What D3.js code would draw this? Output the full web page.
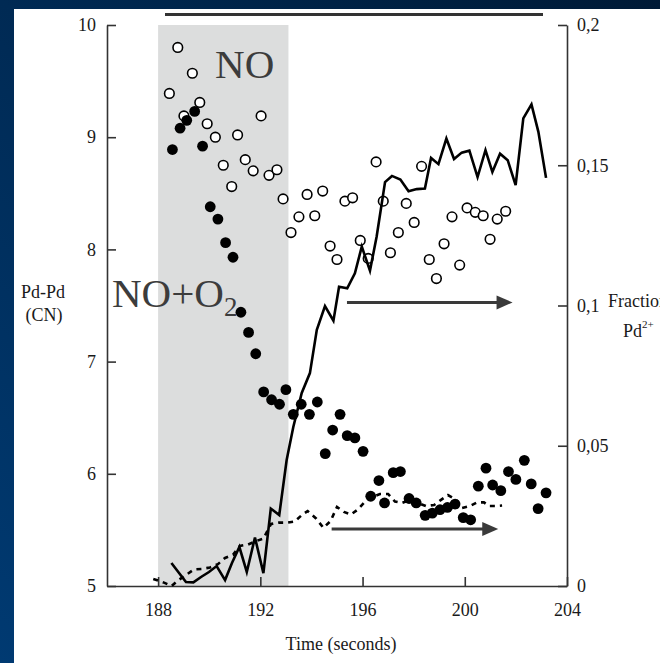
<!DOCTYPE html>
<html>
<head>
<meta charset="utf-8">
<script src="https://cdn.jsdelivr.net/npm/d3@7"></script>
<style>
  html, body { margin: 0; padding: 0; background: #002040; }
  svg { display: block; }
  text { font-family: "Liberation Serif", "Times New Roman", serif; }
</style>
</head>
<body>
<svg id="chart" width="660" height="663"></svg>
<script>
// ---- data ----
// Pd-Pd coordination number, NO exposure (open circles)
const openTime = [188.44,188.77,189.01,189.34,189.63,189.92,190.24,190.55,190.88,191.11,191.41,191.72,192.03,192.34,192.65,192.89,193.20,193.51,193.83,194.13,194.44,194.73,195.00,195.31,195.61,195.91,196.22,196.53,196.81,197.09,197.40,197.71,198.02,198.31,198.61,198.89,199.19,199.50,199.80,200.09,200.41,200.72,200.99,201.27,201.60];
const openCN = [9.39,9.80,9.19,9.57,9.31,9.12,9.00,8.75,8.56,9.02,8.80,8.70,9.19,8.66,8.71,8.45,8.15,8.29,8.49,8.30,8.52,8.03,7.91,8.43,8.46,8.08,7.92,8.78,8.43,7.97,8.15,8.41,8.24,8.74,7.91,7.74,8.05,8.29,7.86,8.37,8.33,8.30,8.09,8.27,8.34];

// Pd-Pd coordination number, NO+O2 exposure (filled circles)
const filledTime = [188.56,188.86,189.12,189.43,189.74,190.04,190.34,190.64,190.93,191.24,191.54,191.82,192.13,192.44,192.75,193.00,193.29,193.60,193.92,194.23,194.54,194.83,195.12,195.40,195.70,196.02,196.32,196.64,196.86,197.20,197.48,197.82,198.10,198.45,198.73,199.03,199.32,199.62,199.94,200.23,200.53,200.83,201.09,201.41,201.71,202.00,202.33,202.60,202.87,203.18];
const filledCN = [8.89,9.08,9.15,9.23,8.92,8.38,8.27,8.06,7.93,7.44,7.26,7.07,6.73,6.66,6.62,6.75,6.53,6.62,6.53,6.64,6.18,6.39,6.53,6.34,6.32,6.20,5.80,5.94,5.74,6.01,6.02,5.78,5.74,5.63,5.65,5.68,5.70,5.73,5.61,5.59,5.89,6.05,5.90,5.85,6.02,5.95,6.12,5.91,5.69,5.83];

// Fraction Pd2+, NO+O2 (solid line)
const solidTime = [188.52,189.09,189.38,189.68,189.99,190.29,190.62,190.89,191.18,191.47,191.79,192.12,192.41,192.74,193.03,193.29,193.62,193.94,194.21,194.53,194.86,195.08,195.40,195.70,195.97,196.29,196.55,196.88,197.15,197.48,197.80,198.12,198.44,198.68,198.97,199.28,199.58,199.88,200.18,200.50,200.81,201.08,201.38,201.68,201.99,202.29,202.61,202.88,203.18];
const solidFrac = [0.0082,0.0014,0.0013,0.0032,0.0050,0.0071,0.0021,0.0082,0.0139,0.0050,0.0173,0.0046,0.0276,0.0253,0.0449,0.0567,0.0688,0.0759,0.0913,0.0998,0.0946,0.1067,0.1061,0.1115,0.1210,0.1124,0.1245,0.1440,0.1462,0.1449,0.1407,0.1415,0.1417,0.1526,0.1504,0.1595,0.1522,0.1545,0.1552,0.1458,0.1554,0.1476,0.1541,0.1518,0.1429,0.1667,0.1717,0.1619,0.1455];

// Fraction Pd2+, NO (dashed line)
const dashTime = [187.81,188.23,188.53,188.78,189.09,189.40,189.72,190.03,190.34,190.62,190.93,191.20,191.52,191.83,192.12,192.42,192.73,193.04,193.34,193.65,193.85,194.18,194.47,194.75,195.00,195.27,195.55,195.82,196.10,196.37,196.68,197.00,197.27,197.54,197.86,198.17,198.48,198.80,199.07,199.34,199.66,199.89,200.20,200.48,200.75,200.95,201.18,201.46];
const dashFrac = [0.0025,0.0012,0.0000,0.0020,0.0039,0.0059,0.0061,0.0066,0.0078,0.0100,0.0111,0.0143,0.0148,0.0160,0.0169,0.0221,0.0226,0.0226,0.0230,0.0255,0.0267,0.0241,0.0207,0.0232,0.0282,0.0264,0.0255,0.0273,0.0301,0.0317,0.0328,0.0328,0.0301,0.0296,0.0307,0.0296,0.0285,0.0289,0.0307,0.0324,0.0307,0.0278,0.0285,0.0298,0.0298,0.0285,0.0285,0.0287];

// gas switching window (s)
const shadeRange = [188, 193.1];

// axis ticks
const timeTicks = [188, 192, 196, 200, 204];
const cnTicks = [5, 6, 7, 8, 9, 10];
const fracTicks = [0, 0.05, 0.1, 0.15, 0.2];

// direction arrows: [t start, t end, fraction]
const arrows = [[195.39, 201.87, 0.1011], [194.79, 201.31, 0.0203]];

// ---- layout ----
const svg = d3.select("#chart");
const W = 660, H = 663;

const x = d3.scaleLinear().domain([186, 204]).range([107, 567]);
const yL = d3.scaleLinear().domain([5, 10]).range([586, 25]);
const yR = d3.scaleLinear().domain([0, 0.2]).range([586, 25]);

// slide background
const defs = svg.append("defs");
const grad = defs.append("linearGradient").attr("id", "bg")
  .attr("x1", "1").attr("y1", "0").attr("x2", "0").attr("y2", "1");
grad.append("stop").attr("offset", "0").attr("stop-color", "#001a36");
grad.append("stop").attr("offset", "1").attr("stop-color", "#003a72");
svg.append("rect").attr("width", W).attr("height", H).attr("fill", "url(#bg)");
svg.append("rect").attr("x", 14).attr("y", 9).attr("width", W - 14).attr("height", H - 9).attr("fill", "#ffffff");

// header rule
svg.append("line").attr("x1", 165).attr("x2", 543).attr("y1", 14.5).attr("y2", 14.5)
  .attr("stroke", "#333").attr("stroke-width", 3);

// shaded exposure window
svg.append("rect")
  .attr("x", x(shadeRange[0])).attr("width", x(shadeRange[1]) - x(shadeRange[0]))
  .attr("y", yL(10)).attr("height", yL(5) - yL(10))
  .attr("fill", "#dcdddd");

// axes
const comma = d3.formatLocale({decimal: ",", thousands: ".", grouping: [3], currency: ["", ""]}).format("~g");

function styleAxis(g) {
  g.selectAll("path.domain").attr("stroke", "#333").attr("stroke-width", 1.6);
  g.selectAll(".tick line").attr("stroke", "#333").attr("stroke-width", 1.6);
  g.selectAll(".tick text").attr("fill", "#1a1a1a").attr("font-size", 18)
    .attr("font-family", "'Liberation Serif', serif");
}

svg.append("g").attr("transform", `translate(0,${yL(5)})`)
  .call(d3.axisBottom(x).tickValues(timeTicks).tickSize(-9).tickSizeOuter(0).tickPadding(17).tickFormat(d3.format("d")))
  .call(styleAxis);

svg.append("g").attr("transform", `translate(${x(186)},0)`)
  .call(d3.axisLeft(yL).tickValues(cnTicks).tickSize(-9).tickSizeOuter(0).tickPadding(11).tickFormat(d3.format("d")))
  .call(styleAxis);

svg.append("g").attr("transform", `translate(${x(204)},0)`)
  .call(d3.axisRight(yR).tickValues(fracTicks).tickSize(-9).tickSizeOuter(0).tickPadding(10).tickFormat(comma))
  .call(styleAxis);

// series
const openPts = openTime.map((t, i) => [t, openCN[i]]);
const filledPts = filledTime.map((t, i) => [t, filledCN[i]]);
const solidPts = solidTime.map((t, i) => [t, solidFrac[i]]);
const dashPts = dashTime.map((t, i) => [t, dashFrac[i]]);

svg.append("g").selectAll("circle").data(openPts).join("circle")
  .attr("cx", d => x(d[0])).attr("cy", d => yL(d[1])).attr("r", 4.8)
  .attr("fill", "#fff").attr("stroke", "#000").attr("stroke-width", 1.6);

const line = d3.line().x(d => x(d[0])).y(d => yR(d[1]));

svg.append("path").datum(dashPts).attr("d", line)
  .attr("fill", "none").attr("stroke", "#000").attr("stroke-width", 2.6)
  .attr("stroke-dasharray", "5,5");

svg.append("path").datum(solidPts).attr("d", line)
  .attr("fill", "none").attr("stroke", "#000").attr("stroke-width", 2.6)
  .attr("stroke-linejoin", "miter");

svg.append("g").selectAll("circle").data(filledPts).join("circle")
  .attr("cx", d => x(d[0])).attr("cy", d => yL(d[1])).attr("r", 5.4)
  .attr("fill", "#000");

// arrows pointing to the right-hand axis
arrows.forEach(([t0, t1, f]) => {
  const x0 = x(t0), x1 = x(t1), yy = yR(f);
  svg.append("line").attr("x1", x0).attr("x2", x1 - 14).attr("y1", yy).attr("y2", yy)
    .attr("stroke", "#3a3a3a").attr("stroke-width", 3);
  svg.append("path")
    .attr("d", `M${x1},${yy} L${x1 - 16},${yy - 7} L${x1 - 16},${yy + 7} Z`)
    .attr("fill", "#3a3a3a");
});

// labels
svg.append("text").attr("x", x(190.23)).attr("y", yL(9.53))
  .attr("font-size", 41).attr("fill", "#3c3c3c").text("NO");

const noo2 = svg.append("text").attr("x", 112).attr("y", 307)
  .attr("font-size", 41).attr("fill", "#3c3c3c");
noo2.append("tspan").text("NO+O");
noo2.append("tspan").attr("font-size", 27).attr("dy", 9).text("2");

const yTitle = svg.append("text").attr("text-anchor", "middle").attr("font-size", 18).attr("fill", "#1a1a1a");
yTitle.append("tspan").attr("x", 43).attr("y", 298).text("Pd-Pd");
yTitle.append("tspan").attr("x", 44).attr("y", 321).text("(CN)");

svg.append("text").attr("x", 608).attr("y", 307).attr("font-size", 18).attr("fill", "#1a1a1a").text("Fraction");
const pd = svg.append("text").attr("x", 623).attr("y", 337).attr("font-size", 18).attr("fill", "#1a1a1a");
pd.append("tspan").text("Pd");
pd.append("tspan").attr("font-size", 11).attr("dy", -9).text("2+");

svg.append("text").attr("x", 341).attr("y", 650).attr("text-anchor", "middle")
  .attr("font-size", 18).attr("fill", "#1a1a1a").text("Time (seconds)");
</script>
</body>
</html>
